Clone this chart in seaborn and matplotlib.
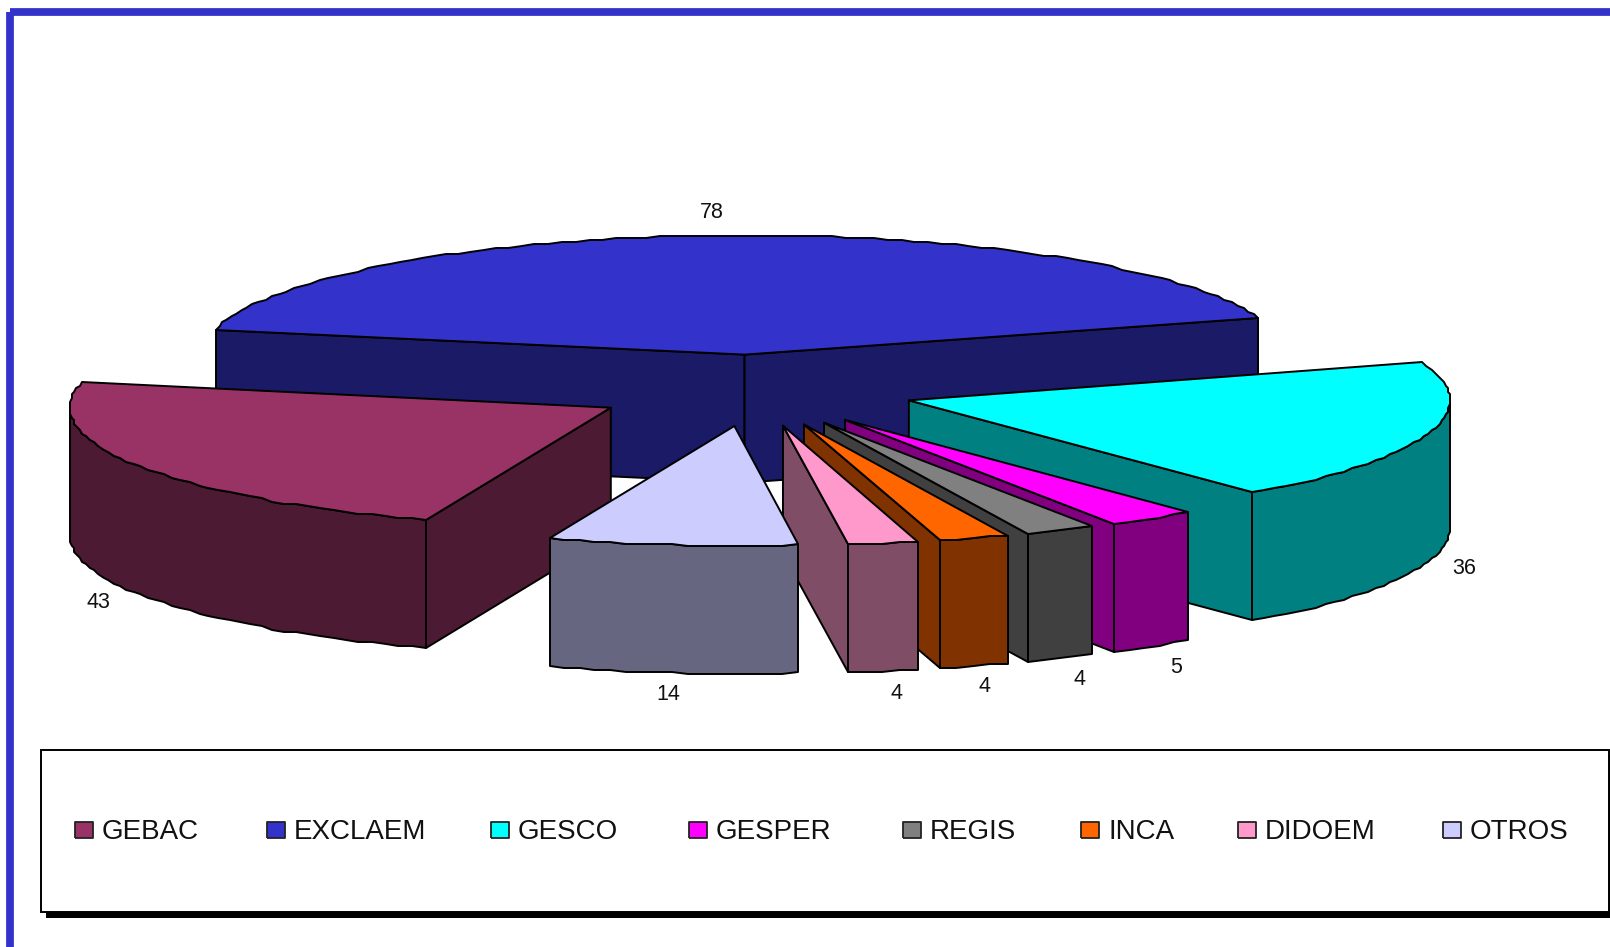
import numpy as np
import pandas as pd
import matplotlib
matplotlib.use("Agg")
import matplotlib.pyplot as plt
from matplotlib.patches import Polygon, Rectangle
import seaborn as sns

# --- datos ---
categorias = ["GEBAC", "EXCLAEM", "GESCO", "GESPER", "REGIS", "INCA", "DIDOEM", "OTROS"]
valores = [43, 78, 36, 5, 4, 4, 4, 14]
colores = ["#993366", "#3333CC", "#00FFFF", "#FF00FF", "#808080", "#FF6600", "#FF99CC", "#CCCCFF"]

# --- geometria del pastel (pixeles de la figura) ---
CENTRO_X, CENTRO_Y = 753.0, 390.4
RADIO_X, RADIO_Y = 541, 119.5
GROSOR = 128
EXPLOSION = 0.3
INICIO = -110
LINEA = 1.4
REJILLA = 2  # el borde del original va a saltos

# ajuste de las etiquetas respecto al borde exterior de cada porcion
ajuste_x = [-38, -5, 36, 24, 19, 11, 14, -4]
ajuste_y = [9, -23, 7, 21, 21, 21, 22, 22]

# --- leyenda ---
leyenda_x = [84, 276, 500, 698, 912, 1090, 1247, 1452]
LEYENDA_Y = 830

sns.set_style("white")
plt.rcParams["font.family"] = ["Liberation Sans", "DejaVu Sans"]
paleta = sns.color_palette(colores)
oscuros = [tuple(c * 0.5 for c in color) for color in paleta]

fig = plt.figure(figsize=(16.1, 9.47), dpi=100)
ax = fig.add_axes([0, 0, 1, 1])

# marco azul, solo se ve arriba y a la izquierda
ax.add_patch(Rectangle((10, 11.5), 1800, 1100, fill=False, edgecolor="#3333CC",
                       linewidth=5.6, joinstyle="round", zorder=1))


def borde(cx, cy, angulos):
    rad = np.radians(angulos)
    puntos = np.column_stack([cx + RADIO_X * np.cos(rad), cy - RADIO_Y * np.sin(rad)])
    return np.round(puntos / REJILLA) * REJILLA


def cara(puntos, color, z):
    ax.add_patch(Polygon(puntos, closed=True, facecolor=color, edgecolor="black",
                         linewidth=LINEA, joinstyle="round", zorder=z))


# angulos de cada porcion, en sentido horario
finales = INICIO - np.cumsum(valores) / sum(valores) * 360
iniciales = np.r_[INICIO, finales[:-1]]
medios = (iniciales + finales) / 2

# de atras hacia adelante
orden = np.argsort(-np.sin(np.radians(medios)))
for z, i in enumerate(orden):
    a1, a2, am = iniciales[i], finales[i], np.radians(medios[i])
    cx = CENTRO_X + EXPLOSION * RADIO_X * np.cos(am)
    cy = CENTRO_Y - EXPLOSION * RADIO_Y * np.sin(am)
    base = 10 + z * 5
    n = max(3, int((a1 - a2) / 1.5))
    angulos = np.linspace(a1, a2, n)
    arco = borde(cx, cy, angulos)
    punta = np.array([[cx, cy]])
    abajo = np.array([0, GROSOR])

    # caras radiales que miran al observador
    if np.cos(np.radians(a1)) < 0:
        cara(np.vstack([punta, arco[:1], arco[:1] + abajo, punta + abajo]), oscuros[i], base)
    if np.cos(np.radians(a2)) > 0:
        cara(np.vstack([punta, arco[-1:], arco[-1:] + abajo, punta + abajo]), oscuros[i], base + 1)

    # pared exterior, solo la parte delantera
    frente = arco[np.sin(np.radians(angulos)) <= 0.03]
    if len(frente) > 1:
        cara(np.vstack([frente, frente[::-1] + abajo]), oscuros[i], base + 2)

    # tapa
    cara(np.vstack([punta, arco]), paleta[i], base + 3)

    # etiqueta de valor
    ex = cx + RADIO_X * np.cos(am) + ajuste_x[i]
    ey = cy - RADIO_Y * np.sin(am) + (GROSOR if np.sin(am) < 0 else 0) + ajuste_y[i]
    ax.text(ex, ey, str(valores[i]), ha="center", va="center", fontsize=15.5,
            color="#111111", zorder=80)

# --- caja de la leyenda con sombra ---
ax.add_patch(Rectangle((46, 755), 1700, 163, facecolor="black", edgecolor="none", zorder=85))
ax.add_patch(Rectangle((41, 750), 1568, 162, facecolor="white", edgecolor="black",
                       linewidth=1.4, zorder=86))

df_leyenda = pd.DataFrame({"x": leyenda_x, "y": [LEYENDA_Y] * len(leyenda_x), "categoria": categorias})
cuadro = [(-1.2, -1), (1.2, -1), (1.2, 1), (-1.2, 1), (-1.2, -1)]
sns.scatterplot(data=df_leyenda, x="x", y="y", hue="categoria", palette=colores, legend=False,
                marker=cuadro, s=175, edgecolor="#222222", linewidth=1.3, zorder=90, ax=ax)
for x, nombre in zip(leyenda_x, categorias):
    ax.text(x + 18, LEYENDA_Y + 2, nombre, ha="left", va="center", fontsize=20,
            color="#111111", zorder=90)

ax.set_xlim(0, 1610)
ax.set_ylim(947, 0)
ax.set_axis_off()

fig.savefig("out.png", dpi=100)
